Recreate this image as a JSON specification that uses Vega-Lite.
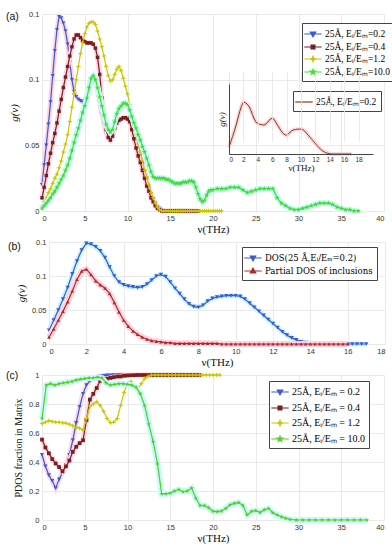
{
"$schema": "https://vega.github.io/schema/vega-lite/v6.json",
"background": "white",
"padding": {"left": 6, "top": 6, "right": 2, "bottom": 2},
"bounds": "flush",
"spacing": 31,
"resolve": {"scale": {"color": "independent", "shape": "independent", "stroke": "independent"}},
"config": {
  "view": {"stroke": null},
  "axis": {"labelFont": "Liberation Sans", "labelFontSize": 7.5, "labelColor": "#333", "titleFont": "Liberation Serif", "titleFontWeight": "normal", "titleFontSize": 11, "titleColor": "#111", "gridColor": "#e4e4e4", "gridWidth": 0.8, "domain": false, "ticks": false, "labelPadding": 3},
  "legend": {"labelFont": "Liberation Serif", "labelFontSize": 9.5, "labelColor": "#000", "strokeColor": "#444", "fillColor": "#ffffff", "padding": 4, "rowPadding": 0, "symbolSize": 144, "symbolStrokeWidth": 1.2, "labelOffset": 5, "orient": "none", "labelLimit": 300},
  "title": {"font": "Liberation Sans", "fontSize": 10.5, "fontWeight": "normal", "color": "#111", "anchor": "start", "frame": "group"}
},
"datasets": {
"A": [
{"x":0,"a":0.020,"b":0.010,"c":0.004,"d":0.002},
{"x":0.25,"a":0.035,"b":0.018,"c":0.007,"d":0.004},
{"x":0.5,"a":0.050,"b":0.027,"c":0.010,"d":0.006},
{"x":0.75,"a":0.066,"b":0.036,"c":0.014,"d":0.008},
{"x":1,"a":0.083,"b":0.044,"c":0.017,"d":0.010},
{"x":1.25,"a":0.103,"b":0.052,"c":0.021,"d":0.013},
{"x":1.5,"a":0.122,"b":0.059,"c":0.025,"d":0.015},
{"x":1.75,"a":0.138,"b":0.067,"c":0.028,"d":0.018},
{"x":2,"a":0.148,"b":0.076,"c":0.033,"d":0.021},
{"x":2.25,"a":0.147,"b":0.085,"c":0.038,"d":0.024},
{"x":2.5,"a":0.143,"b":0.094,"c":0.045,"d":0.027},
{"x":2.75,"a":0.137,"b":0.102,"c":0.051,"d":0.031},
{"x":3,"a":0.127,"b":0.110,"c":0.058,"d":0.035},
{"x":3.25,"a":0.113,"b":0.118,"c":0.068,"d":0.040},
{"x":3.5,"a":0.100,"b":0.125,"c":0.079,"d":0.046},
{"x":3.75,"a":0.091,"b":0.131,"c":0.089,"d":0.052},
{"x":4,"a":0.087,"b":0.134,"c":0.100,"d":0.058},
{"x":4.25,"a":0.085,"b":0.134,"c":0.110,"d":0.063},
{"x":4.5,"a":0.084,"b":0.132,"c":0.120,"d":0.069},
{"x":4.75,"a":0.083,"b":0.130,"c":0.128,"d":0.075},
{"x":5,"a":0.084,"b":0.129,"c":0.135,"d":0.080},
{"x":5.25,"a":0.088,"b":0.128,"c":0.140,"d":0.086},
{"x":5.5,"a":0.094,"b":0.128,"c":0.143,"d":0.094},
{"x":5.75,"a":0.100,"b":0.128,"c":0.144,"d":0.101},
{"x":6,"a":0.102,"b":0.127,"c":0.144,"d":0.103},
{"x":6.25,"a":0.099,"b":0.124,"c":0.142,"d":0.100},
{"x":6.5,"a":0.091,"b":0.117,"c":0.137,"d":0.094},
{"x":6.75,"a":0.082,"b":0.104,"c":0.131,"d":0.087},
{"x":7,"a":0.074,"b":0.086,"c":0.125,"d":0.080},
{"x":7.25,"a":0.066,"b":0.072,"c":0.118,"d":0.073},
{"x":7.5,"a":0.059,"b":0.062,"c":0.110,"d":0.066},
{"x":7.75,"a":0.055,"b":0.056,"c":0.103,"d":0.062},
{"x":8,"a":0.054,"b":0.054,"c":0.099,"d":0.060},
{"x":8.25,"a":0.057,"b":0.057,"c":0.100,"d":0.062},
{"x":8.5,"a":0.063,"b":0.063,"c":0.104,"d":0.068},
{"x":8.75,"a":0.067,"b":0.067,"c":0.108,"d":0.074},
{"x":9,"a":0.069,"b":0.069,"c":0.110,"d":0.078},
{"x":9.25,"a":0.070,"b":0.070,"c":0.107,"d":0.080},
{"x":9.5,"a":0.071,"b":0.071,"c":0.101,"d":0.082},
{"x":9.75,"a":0.071,"b":0.071,"c":0.095,"d":0.082},
{"x":10,"a":0.071,"b":0.070,"c":0.089,"d":0.081},
{"x":10.25,"a":0.070,"b":0.068,"c":0.081,"d":0.077},
{"x":10.5,"a":0.066,"b":0.062,"c":0.073,"d":0.072},
{"x":10.75,"a":0.060,"b":0.055,"c":0.065,"d":0.067},
{"x":11,"a":0.054,"b":0.048,"c":0.058,"d":0.063},
{"x":11.25,"a":0.048,"b":0.042,"c":0.051,"d":0.058},
{"x":11.5,"a":0.042,"b":0.037,"c":0.045,"d":0.054},
{"x":11.75,"a":0.036,"b":0.031,"c":0.038,"d":0.049},
{"x":12,"a":0.030,"b":0.025,"c":0.031,"d":0.045},
{"x":12.25,"a":0.024,"b":0.019,"c":0.026,"d":0.040},
{"x":12.5,"a":0.018,"b":0.015,"c":0.020,"d":0.035},
{"x":12.75,"a":0.013,"b":0.010,"c":0.014,"d":0.030},
{"x":13,"a":0.009,"b":0.007,"c":0.010,"d":0.026},
{"x":13.25,"a":0.006,"b":0.004,"c":0.006,"d":0.025},
{"x":13.5,"a":0.003,"b":0.002,"c":0.003,"d":0.025},
{"x":13.75,"a":0.002,"b":0.001,"c":0.001,"d":0.025},
{"x":14,"a":0.001,"b":0,"c":0,"d":0.025},
{"x":14.25,"a":0,"b":0,"c":0,"d":0.025},
{"x":14.5,"a":0,"b":0,"c":0,"d":0.024},
{"x":14.75,"a":0,"b":0,"c":0,"d":0.024},
{"x":15,"a":0,"b":0,"c":0,"d":0.023},
{"x":15.25,"a":0,"b":0,"c":0,"d":0.022},
{"x":15.5,"a":0,"b":0,"c":0,"d":0.021},
{"x":15.75,"a":0,"b":0,"c":0,"d":0.021},
{"x":16,"a":0,"b":0,"c":0,"d":0.021},
{"x":16.25,"a":0,"b":0,"c":0,"d":0.021},
{"x":16.5,"a":0,"b":0,"c":0,"d":0.022},
{"x":16.75,"a":0,"b":0,"c":0,"d":0.022},
{"x":17,"a":0,"b":0,"c":0,"d":0.022},
{"x":17.25,"b":0,"c":0,"d":0.023},
{"x":17.5,"b":0,"c":0,"d":0.023},
{"x":17.75,"b":0,"c":0,"d":0.022},
{"x":18,"b":0,"c":0,"d":0.018},
{"x":18.25,"b":0,"c":0,"d":0.013},
{"x":18.5,"c":0,"d":0.009},
{"x":18.75,"c":0,"d":0.007},
{"x":19,"c":0,"d":0.008},
{"x":19.25,"c":0,"d":0.012},
{"x":19.5,"c":0,"d":0.015},
{"x":19.75,"c":0,"d":0.016},
{"x":20,"c":0,"d":0.016},
{"x":20.25,"c":0},
{"x":20.5,"c":0,"d":0.017},
{"x":20.75,"c":0},
{"x":21,"c":0,"d":0.017},
{"x":21.5,"d":0.017},
{"x":22,"d":0.018},
{"x":22.5,"d":0.018},
{"x":23,"d":0.018},
{"x":23.5,"d":0.016},
{"x":24,"d":0.014},
{"x":24.5,"d":0.015},
{"x":25,"d":0.016},
{"x":25.5,"d":0.017},
{"x":26,"d":0.017},
{"x":26.5,"d":0.017},
{"x":27,"d":0.017},
{"x":27.5,"d":0.010},
{"x":28,"d":0.006},
{"x":28.5,"d":0.004},
{"x":29,"d":0.002},
{"x":29.5,"d":0.001},
{"x":30,"d":0.001},
{"x":30.5,"d":0.002},
{"x":31,"d":0.003},
{"x":31.5,"d":0.004},
{"x":32,"d":0.005},
{"x":32.5,"d":0.006},
{"x":33,"d":0.006},
{"x":33.5,"d":0.006},
{"x":34,"d":0.005},
{"x":34.5,"d":0.003},
{"x":35,"d":0.002},
{"x":35.5,"d":0.001},
{"x":36,"d":0.001},
{"x":36.5,"d":0},
{"x":37,"d":0}
],
"B": [
{"x":0,"dos":0.020,"pdos":0.010},
{"x":0.25,"dos":0.035,"pdos":0.022},
{"x":0.5,"dos":0.050,"pdos":0.035},
{"x":0.75,"dos":0.066,"pdos":0.048},
{"x":1,"dos":0.083,"pdos":0.062},
{"x":1.25,"dos":0.103,"pdos":0.078},
{"x":1.5,"dos":0.122,"pdos":0.095},
{"x":1.75,"dos":0.138,"pdos":0.107},
{"x":2,"dos":0.148,"pdos":0.110},
{"x":2.25,"dos":0.147,"pdos":0.102},
{"x":2.5,"dos":0.143,"pdos":0.093},
{"x":2.75,"dos":0.137,"pdos":0.087},
{"x":3,"dos":0.127,"pdos":0.082},
{"x":3.25,"dos":0.113,"pdos":0.074},
{"x":3.5,"dos":0.100,"pdos":0.061},
{"x":3.75,"dos":0.091,"pdos":0.047},
{"x":4,"dos":0.087,"pdos":0.035},
{"x":4.25,"dos":0.085,"pdos":0.026},
{"x":4.5,"dos":0.084,"pdos":0.019},
{"x":4.75,"dos":0.083,"pdos":0.014},
{"x":5,"dos":0.084,"pdos":0.010},
{"x":5.25,"dos":0.088,"pdos":0.007},
{"x":5.5,"dos":0.094,"pdos":0.005},
{"x":5.75,"dos":0.100,"pdos":0.004},
{"x":6,"dos":0.102,"pdos":0.003},
{"x":6.25,"dos":0.099,"pdos":0.002},
{"x":6.5,"dos":0.091,"pdos":0.002},
{"x":6.75,"dos":0.082,"pdos":0.001},
{"x":7,"dos":0.074,"pdos":0.001},
{"x":7.25,"dos":0.066,"pdos":0.001},
{"x":7.5,"dos":0.059,"pdos":0.001},
{"x":7.75,"dos":0.055,"pdos":0.001},
{"x":8,"dos":0.054,"pdos":0.001},
{"x":8.25,"dos":0.057,"pdos":0.001},
{"x":8.5,"dos":0.063,"pdos":0.001},
{"x":8.75,"dos":0.067,"pdos":0.001},
{"x":9,"dos":0.069,"pdos":0.001},
{"x":9.25,"dos":0.070,"pdos":0},
{"x":9.5,"dos":0.071,"pdos":0},
{"x":9.75,"dos":0.071,"pdos":0},
{"x":10,"dos":0.071,"pdos":0},
{"x":10.25,"dos":0.070,"pdos":0},
{"x":10.5,"dos":0.066,"pdos":0},
{"x":10.75,"dos":0.060,"pdos":0},
{"x":11,"dos":0.054,"pdos":0},
{"x":11.25,"dos":0.048,"pdos":0},
{"x":11.5,"dos":0.042,"pdos":0},
{"x":11.75,"dos":0.036,"pdos":0},
{"x":12,"dos":0.030,"pdos":0},
{"x":12.25,"dos":0.024,"pdos":0},
{"x":12.5,"dos":0.018,"pdos":0},
{"x":12.75,"dos":0.013,"pdos":0},
{"x":13,"dos":0.009,"pdos":0},
{"x":13.25,"dos":0.006,"pdos":0},
{"x":13.5,"dos":0.003,"pdos":0},
{"x":13.75,"dos":0.002,"pdos":0},
{"x":14,"dos":0.001,"pdos":0},
{"x":14.25,"dos":0,"pdos":0},
{"x":14.5,"dos":0,"pdos":0},
{"x":14.75,"dos":0,"pdos":0},
{"x":15,"dos":0,"pdos":0},
{"x":15.25,"dos":0,"pdos":0},
{"x":15.5,"dos":0,"pdos":0},
{"x":15.75,"dos":0,"pdos":0},
{"x":16,"dos":0,"pdos":0},
{"x":16.25,"dos":0},
{"x":16.5,"dos":0},
{"x":16.75,"dos":0},
{"x":17,"dos":0}
],
"C": [
{"x":0,"a":0.45,"b":0.555,"c":0.665},
{"x":0.4,"a":0.37,"b":0.50,"c":0.675},
{"x":0.8,"a":0.31,"b":0.46,"c":0.685},
{"x":1.2,"a":0.27,"b":0.42,"c":0.68},
{"x":1.6,"a":0.22,"b":0.39,"c":0.675},
{"x":2,"a":0.28,"b":0.365,"c":0.675},
{"x":2.4,"a":0.33,"b":0.335,"c":0.67},
{"x":2.8,"a":0.38,"b":0.37,"c":0.668},
{"x":3.2,"a":0.45,"b":0.41,"c":0.66},
{"x":3.6,"a":0.55,"b":0.47,"c":0.65},
{"x":4,"a":0.67,"b":0.505,"c":0.642},
{"x":4.4,"a":0.78,"b":0.53,"c":0.632},
{"x":4.8,"a":0.87,"b":0.55,"c":0.62},
{"x":5.2,"a":0.93,"b":0.69,"c":0.70},
{"x":5.6,"a":0.96,"b":0.83,"c":0.785},
{"x":6,"a":0.975,"b":0.87,"c":0.80},
{"x":6.4,"a":0.985,"b":0.91,"c":0.815},
{"x":6.8,"a":0.99,"b":0.96,"c":0.79},
{"x":7.2,"a":0.995,"b":0.975,"c":0.75},
{"x":7.6,"a":0.997,"b":0.975,"c":0.70},
{"x":8,"a":0.998,"b":0.98,"c":0.67},
{"x":8.4,"a":0.999,"b":0.985,"c":0.675},
{"x":8.8,"a":1,"b":0.99,"c":0.70},
{"x":9.2,"a":1,"b":0.99,"c":0.79},
{"x":9.6,"a":1,"b":0.995,"c":0.88},
{"x":10,"a":1,"b":0.997,"c":0.94},
{"x":10.4,"a":1,"b":0.998,"c":0.955},
{"x":10.8,"a":1,"b":0.999,"c":0.92},
{"x":11.2,"a":1,"b":1,"c":0.90},
{"x":11.6,"a":1,"b":1,"c":0.94},
{"x":12,"a":1,"b":1,"c":0.975},
{"x":12.4,"a":1,"b":1,"c":0.99},
{"x":12.8,"a":1,"b":1,"c":1},
{"x":13.2,"a":1,"b":1,"c":1},
{"x":13.6,"a":1,"b":1,"c":1},
{"x":14,"a":1,"b":1,"c":1},
{"x":14.4,"a":1,"b":1,"c":1},
{"x":14.8,"a":1,"b":1,"c":1},
{"x":15.2,"a":1,"b":1,"c":1},
{"x":15.6,"a":1,"b":1,"c":1},
{"x":16,"a":1,"b":1,"c":1},
{"x":16.4,"a":1,"b":1,"c":1},
{"x":16.8,"a":1,"b":1,"c":1},
{"x":17.2,"b":1,"c":1},
{"x":17.6,"b":1,"c":1},
{"x":18,"b":1,"c":1},
{"x":18.4,"b":1,"c":1},
{"x":18.8,"c":1},
{"x":19.2,"c":1},
{"x":19.6,"c":1},
{"x":20,"c":1},
{"x":20.4,"c":1},
{"x":20.8,"c":1}
],
"Cd": [
{"x":0,"d":0.70},{"x":0.5,"d":0.93},{"x":1,"d":0.94},{"x":1.5,"d":0.93},{"x":2,"d":0.94},
{"x":2.5,"d":0.945},{"x":3,"d":0.95},{"x":3.5,"d":0.955},{"x":4,"d":0.965},{"x":4.5,"d":0.97},
{"x":5,"d":0.975},{"x":5.5,"d":0.98},{"x":6,"d":0.98},{"x":6.5,"d":0.985},{"x":7,"d":0.98},
{"x":7.5,"d":0.945},{"x":8,"d":0.93},{"x":8.5,"d":0.935},{"x":9,"d":0.94},{"x":9.5,"d":0.94},
{"x":10,"d":0.935},{"x":10.5,"d":0.93},{"x":11,"d":0.915},{"x":11.5,"d":0.87},{"x":12,"d":0.79},
{"x":12.5,"d":0.66},{"x":13,"d":0.54},{"x":13.5,"d":0.39},{"x":14,"d":0.18},{"x":14.5,"d":0.18},
{"x":15,"d":0.185},{"x":15.5,"d":0.20},{"x":16,"d":0.21},{"x":16.5,"d":0.195},{"x":17,"d":0.20},
{"x":17.5,"d":0.22},{"x":18,"d":0.15},{"x":18.5,"d":0.10},{"x":19,"d":0.10},{"x":19.5,"d":0.085},
{"x":20,"d":0.06},{"x":20.5,"d":0.058},{"x":21,"d":0.062},{"x":21.5,"d":0.08},{"x":22,"d":0.105},
{"x":22.5,"d":0.115},{"x":23,"d":0.12},{"x":23.5,"d":0.10},{"x":24,"d":0.035},{"x":24.5,"d":0.06},
{"x":25,"d":0.065},{"x":25.5,"d":0.052},{"x":26,"d":0.07},{"x":26.5,"d":0.08},{"x":27,"d":0.05},
{"x":27.5,"d":0.035},{"x":28,"d":0.022},{"x":28.5,"d":0.012},{"x":29,"d":0.004},{"x":29.75,"d":0},
{"x":30.5,"d":0},{"x":31.25,"d":0},{"x":32,"d":0},{"x":32.75,"d":0},{"x":33.5,"d":0},
{"x":34.25,"d":0},{"x":35,"d":0},{"x":35.75,"d":0},{"x":36.5,"d":0},{"x":37.25,"d":0},{"x":38,"d":0}
]
},
"vconcat": [
{
 "width": 342, "height": 197,
 "title": {"text": "(a)", "dx": -36, "dy": 16, "offset": 0},
 "layer": [
  {
   "encoding": {
    "x": {"field": "x", "type": "quantitative", "scale": {"domain": [0, 40], "nice": false}, "axis": {"values": [0,5,10,15,20,25,30,35,40], "grid": true, "title": "ν(THz)", "titlePadding": 2}},
    "y": {"field": "v", "type": "quantitative", "scale": {"domain": [0, 0.15], "nice": false}, "axis": {"values": [0,0.05,0.1,0.15], "format": "~g", "grid": true, "title": "g(ν)", "titleFontStyle": "italic", "titlePadding": 5}}
   },
   "layer": [
    {"data": {"name": "A"}, "transform": [{"fold": ["a"], "as": ["k", "v"]}, {"filter": "isValid(datum.v)"}],
     "layer": [
      {"mark": {"type": "line", "color": "#ffd6e6", "strokeWidth": 5}},
      {"mark": {"type": "line", "color": "#3b5bd0", "strokeWidth": 1.2}},
      {"mark": {"type": "point", "shape": "triangle-down", "filled": true, "color": "#3b5bd0", "size": 16, "opacity": 1}}
     ]},
    {"data": {"name": "A"}, "transform": [{"fold": ["b"], "as": ["k", "v"]}, {"filter": "isValid(datum.v)"}],
     "layer": [
      {"mark": {"type": "line", "color": "#ffd6e6", "strokeWidth": 5}},
      {"mark": {"type": "line", "color": "#7d1d1d", "strokeWidth": 1.2}},
      {"mark": {"type": "point", "shape": "square", "filled": true, "color": "#7d1d1d", "size": 12, "opacity": 1}}
     ]},
    {"data": {"name": "A"}, "transform": [{"fold": ["c"], "as": ["k", "v"]}, {"filter": "isValid(datum.v)"}],
     "layer": [
      {"mark": {"type": "line", "color": "#c8c800", "strokeWidth": 1.2}},
      {"mark": {"type": "point", "shape": "M0,-1L0.27,-0.27L1,0L0.27,0.27L0,1L-0.27,0.27L-1,0L-0.27,-0.27Z", "filled": true, "color": "#c8c800", "size": 30, "opacity": 1}}
     ]},
    {"data": {"name": "A"}, "transform": [{"fold": ["d"], "as": ["k", "v"]}, {"filter": "isValid(datum.v)"}],
     "layer": [
      {"mark": {"type": "line", "color": "#c8fafa", "strokeWidth": 6}},
      {"mark": {"type": "line", "color": "#44dd33", "strokeWidth": 1.2}},
      {"mark": {"type": "point", "shape": "M0,-1L0.24,-0.33L0.95,-0.31L0.38,0.12L0.59,0.81L0,0.4L-0.59,0.81L-0.38,0.12L-0.95,-0.31L-0.24,-0.33Z", "filled": true, "color": "#44dd33", "size": 30, "opacity": 1}}
     ]},
    {"data": {"values": [{}]}, "mark": {"type": "rect", "filled": false, "color": "#777", "strokeWidth": 0.8},
     "encoding": {"x": {"datum": 0}, "x2": {"datum": 40}, "y": {"datum": 0}, "y2": {"datum": 0.15}}},
    {"data": {"values": [{}]}, "mark": {"type": "rect", "fill": "#ffffff", "stroke": "#555", "strokeWidth": 0.8},
     "encoding": {"x": {"datum": 19.95}, "x2": {"datum": 39.9}, "y": {"datum": 0.0277}, "y2": {"datum": 0.1033}}},
    {"data": {"values": [{"k": "none"}]}, "transform": [{"filter": "false"}],
     "mark": {"type": "point", "filled": true, "opacity": 1, "size": 144, "strokeWidth": 1.2},
     "encoding": {
      "color": {"field": "k", "type": "nominal", "scale": {"domain": ["25Å, Eᵢ/Eₘ=0.2", "25Å, Eᵢ/Eₘ=0.4", "25Å, Eᵢ/Eₘ=1.2", "25Å, Eᵢ/Eₘ=10.0"], "range": ["#3b5bd0", "#7d1d1d", "#c8c800", "#44dd33"]},
        "legend": {"title": null, "orient": "none", "legendX": 260, "legendY": 9}},
      "stroke": {"field": "k", "type": "nominal", "scale": {"domain": ["25Å, Eᵢ/Eₘ=0.2", "25Å, Eᵢ/Eₘ=0.4", "25Å, Eᵢ/Eₘ=1.2", "25Å, Eᵢ/Eₘ=10.0"], "range": ["#3b5bd0", "#7d1d1d", "#c8c800", "#44dd33"]}},
      "shape": {"field": "k", "type": "nominal", "scale": {"domain": ["25Å, Eᵢ/Eₘ=0.2", "25Å, Eᵢ/Eₘ=0.4", "25Å, Eᵢ/Eₘ=1.2", "25Å, Eᵢ/Eₘ=10.0"], "range": [
        "M-1.45,0H1.45M-0.45,-0.32L0.45,-0.32L0,0.45Z",
        "M-1.45,0H1.45M-0.32,-0.32H0.32V0.32H-0.32Z",
        "M-1.45,0H1.45M0,-0.45L0.12,-0.12L0.45,0L0.12,0.12L0,0.45L-0.12,0.12L-0.45,0L-0.12,-0.12Z",
        "M-1.45,0H1.45M0,-0.45L0.108,-0.149L0.428,-0.14L0.171,0.054L0.266,0.365L0,0.18L-0.266,0.365L-0.171,0.054L-0.428,-0.14L-0.108,-0.149Z"]}}
     }}
   ]
  },
  {
   "data": {"name": "B"},
   "encoding": {
    "x": {"field": "x", "type": "quantitative", "scale": {"domain": [0, 20], "range": [187, 331], "nice": false}, "axis": {"orient": "bottom", "values": [0,2,4,6,8,10,12,14,16,18], "offset": -57, "grid": true, "domain": true, "domainColor": "#444", "zindex": 1, "labelFontSize": 6.5, "labelPadding": 2, "title": "ν(THz)", "titleFontSize": 9, "titlePadding": 1}},
    "y": {"field": "dos", "type": "quantitative", "scale": {"domain": [0, 0.2], "range": [140, 70], "nice": false}, "axis": {"orient": "left", "offset": -187, "labels": false, "grid": false, "domain": true, "domainColor": "#444", "zindex": 1, "title": "g(ν)", "titleFontStyle": "italic", "titleFontSize": 9, "titlePadding": 3}}
   },
   "layer": [
    {"mark": {"type": "line", "color": "#ffd6dc", "strokeWidth": 4}},
    {"mark": {"type": "line", "color": "#8b3a14", "strokeWidth": 1}},
    {"transform": [{"filter": "false"}], "mark": {"type": "point", "filled": true, "opacity": 1, "size": 144, "strokeWidth": 1.2},
     "encoding": {
      "color": {"field": "k", "type": "nominal", "scale": {"domain": ["25Å, Eᵢ/Eₘ=0.2"], "range": ["#8b3a14"]}, "legend": {"title": null, "orient": "none", "legendX": 251, "legendY": 77}},
      "stroke": {"field": "k", "type": "nominal", "scale": {"domain": ["25Å, Eᵢ/Eₘ=0.2"], "range": ["#8b3a14"]}},
      "shape": {"field": "k", "type": "nominal", "scale": {"domain": ["25Å, Eᵢ/Eₘ=0.2"], "range": ["M-1.45,0H1.45"]}}
     }}
   ]
  }
 ],
 "resolve": {"scale": {"x": "independent", "y": "independent", "color": "independent", "shape": "independent", "stroke": "independent"}}
},
{
 "width": 343, "height": 102,
 "title": {"text": "(b)", "dx": -34, "dy": 19, "offset": 0},
 "data": {"name": "B"},
 "encoding": {
  "x": {"field": "x", "type": "quantitative", "scale": {"domain": [0, 18], "range": [7, 343], "nice": false}, "axis": {"values": [0,2,4,6,8,10,12,14,16,18], "grid": true, "title": "ν(THz)", "titlePadding": 2}},
  "y": {"field": "v", "type": "quantitative", "scale": {"domain": [0, 0.15], "nice": false}, "axis": {"values": [0,0.05,0.1,0.15], "format": "~g", "grid": true, "offset": -7, "title": "g(ν)", "titleFontStyle": "italic", "titlePadding": 5}}
 },
 "layer": [
  {"transform": [{"fold": ["dos"], "as": ["k", "v"]}, {"filter": "isValid(datum.v)"}],
   "layer": [
    {"mark": {"type": "line", "color": "#c8f4fa", "strokeWidth": 5}},
    {"mark": {"type": "line", "color": "#3b5bd0", "strokeWidth": 1.2}},
    {"mark": {"type": "point", "shape": "triangle-down", "filled": true, "color": "#3b5bd0", "size": 18, "opacity": 1}}
   ]},
  {"transform": [{"fold": ["pdos"], "as": ["k", "v"]}, {"filter": "isValid(datum.v)"}],
   "layer": [
    {"mark": {"type": "line", "color": "#ffd1e3", "strokeWidth": 6}},
    {"mark": {"type": "line", "color": "#b22a1e", "strokeWidth": 1.2}},
    {"mark": {"type": "point", "shape": "triangle-up", "filled": true, "color": "#b22a1e", "size": 14, "opacity": 1}}
   ]},
  {"data": {"values": [{}]}, "mark": {"type": "rect", "filled": false, "color": "#777", "strokeWidth": 0.8},
   "encoding": {"x": {"datum": 0}, "x2": {"datum": 18}, "y": {"datum": 0}, "y2": {"datum": 0.15}}},
  {"transform": [{"filter": "false"}], "mark": {"type": "point", "filled": true, "opacity": 1, "size": 144, "strokeWidth": 1.2},
   "encoding": {
    "color": {"field": "k", "type": "nominal", "scale": {"domain": ["DOS(25 Å,Eᵢ/Eₘ=0.2)", "Partial DOS of inclusions"], "range": ["#3b5bd0", "#b22a1e"]}, "legend": {"title": null, "orient": "none", "legendX": 200, "legendY": 5, "labelFont": "DejaVu Serif", "labelFontSize": 8.5}},
    "stroke": {"field": "k", "type": "nominal", "scale": {"domain": ["DOS(25 Å,Eᵢ/Eₘ=0.2)", "Partial DOS of inclusions"], "range": ["#3b5bd0", "#b22a1e"]}},
    "shape": {"field": "k", "type": "nominal", "scale": {"domain": ["DOS(25 Å,Eᵢ/Eₘ=0.2)", "Partial DOS of inclusions"], "range": [
      "M-1.45,0H1.45M-0.45,-0.32L0.45,-0.32L0,0.45Z",
      "M-1.45,0H1.45M-0.45,0.32L0.45,0.32L0,-0.45Z"]}}
   }}
 ]
},
{
 "width": 342, "height": 145,
 "title": {"text": "(c)", "dx": -36, "dy": 16, "offset": 0},
 "encoding": {
  "x": {"field": "x", "type": "quantitative", "scale": {"domain": [0, 40], "nice": false}, "axis": {"values": [0,5,10,15,20,25,30,35,40], "grid": true, "title": "ν(THz)", "titlePadding": 2}},
  "y": {"field": "v", "type": "quantitative", "scale": {"domain": [0, 1], "nice": false}, "axis": {"values": [0,0.2,0.4,0.6,0.8,1], "format": "~g", "grid": true, "title": "PDOS fraction in Matrix", "titleFontSize": 10, "titlePadding": 5}}
 },
 "layer": [
  {"data": {"name": "C"}, "transform": [{"fold": ["a"], "as": ["k", "v"]}, {"filter": "isValid(datum.v)"}],
   "layer": [
    {"mark": {"type": "line", "color": "#ffd6e6", "strokeWidth": 5}},
    {"mark": {"type": "line", "color": "#3b5bd0", "strokeWidth": 1.2}},
    {"mark": {"type": "point", "shape": "triangle-down", "filled": true, "color": "#3b5bd0", "size": 18, "opacity": 1}}
   ]},
  {"data": {"name": "C"}, "transform": [{"fold": ["b"], "as": ["k", "v"]}, {"filter": "isValid(datum.v)"}],
   "layer": [
    {"mark": {"type": "line", "color": "#ffd6e6", "strokeWidth": 5}},
    {"mark": {"type": "line", "color": "#7d1d1d", "strokeWidth": 1.2}},
    {"mark": {"type": "point", "shape": "square", "filled": true, "color": "#7d1d1d", "size": 14, "opacity": 1}}
   ]},
  {"data": {"name": "C"}, "transform": [{"fold": ["c"], "as": ["k", "v"]}, {"filter": "isValid(datum.v)"}],
   "layer": [
    {"mark": {"type": "line", "color": "#c8c800", "strokeWidth": 1.2}},
    {"mark": {"type": "point", "shape": "M0,-1L0.27,-0.27L1,0L0.27,0.27L0,1L-0.27,0.27L-1,0L-0.27,-0.27Z", "filled": true, "color": "#c8c800", "size": 30, "opacity": 1}}
   ]},
  {"data": {"name": "Cd"}, "transform": [{"fold": ["d"], "as": ["k", "v"]}, {"filter": "isValid(datum.v)"}],
   "layer": [
    {"mark": {"type": "line", "color": "#c8fafa", "strokeWidth": 6}},
    {"mark": {"type": "line", "color": "#55cc22", "strokeWidth": 1.2}},
    {"mark": {"type": "point", "shape": "M0,-1L0.24,-0.33L0.95,-0.31L0.38,0.12L0.59,0.81L0,0.4L-0.59,0.81L-0.38,0.12L-0.95,-0.31L-0.24,-0.33Z", "filled": true, "color": "#55cc22", "size": 22, "opacity": 1}}
   ]},
  {"data": {"values": [{}]}, "mark": {"type": "rect", "filled": false, "color": "#777", "strokeWidth": 0.8},
   "encoding": {"x": {"datum": 0}, "x2": {"datum": 40}, "y": {"datum": 0}, "y2": {"datum": 1}}},
  {"data": {"values": [{"k": "none"}]}, "transform": [{"filter": "false"}],
   "mark": {"type": "point", "filled": true, "opacity": 1, "size": 144, "strokeWidth": 1.2},
   "encoding": {
    "color": {"field": "k", "type": "nominal", "scale": {"domain": ["25Å, Eᵢ/Eₘ = 0.2", "25Å, Eᵢ/Eₘ = 0.4", "25Å, Eᵢ/Eₘ = 1.2", "25Å, Eᵢ/Eₘ = 10.0"], "range": ["#3b5bd0", "#7d1d1d", "#c8c800", "#55cc22"]},
      "legend": {"title": null, "orient": "none", "legendX": 227, "legendY": 6, "rowPadding": 3, "labelFontSize": 10}},
    "stroke": {"field": "k", "type": "nominal", "scale": {"domain": ["25Å, Eᵢ/Eₘ = 0.2", "25Å, Eᵢ/Eₘ = 0.4", "25Å, Eᵢ/Eₘ = 1.2", "25Å, Eᵢ/Eₘ = 10.0"], "range": ["#3b5bd0", "#7d1d1d", "#c8c800", "#55cc22"]}},
    "shape": {"field": "k", "type": "nominal", "scale": {"domain": ["25Å, Eᵢ/Eₘ = 0.2", "25Å, Eᵢ/Eₘ = 0.4", "25Å, Eᵢ/Eₘ = 1.2", "25Å, Eᵢ/Eₘ = 10.0"], "range": [
      "M-1.45,0H1.45M-0.45,-0.32L0.45,-0.32L0,0.45Z",
      "M-1.45,0H1.45M-0.32,-0.32H0.32V0.32H-0.32Z",
      "M-1.45,0H1.45M0,-0.45L0.12,-0.12L0.45,0L0.12,0.12L0,0.45L-0.12,0.12L-0.45,0L-0.12,-0.12Z",
      "M-1.45,0H1.45M0,-0.45L0.108,-0.149L0.428,-0.14L0.171,0.054L0.266,0.365L0,0.18L-0.266,0.365L-0.171,0.054L-0.428,-0.14L-0.108,-0.149Z"]}}
   }}
 ]
}
]
}
